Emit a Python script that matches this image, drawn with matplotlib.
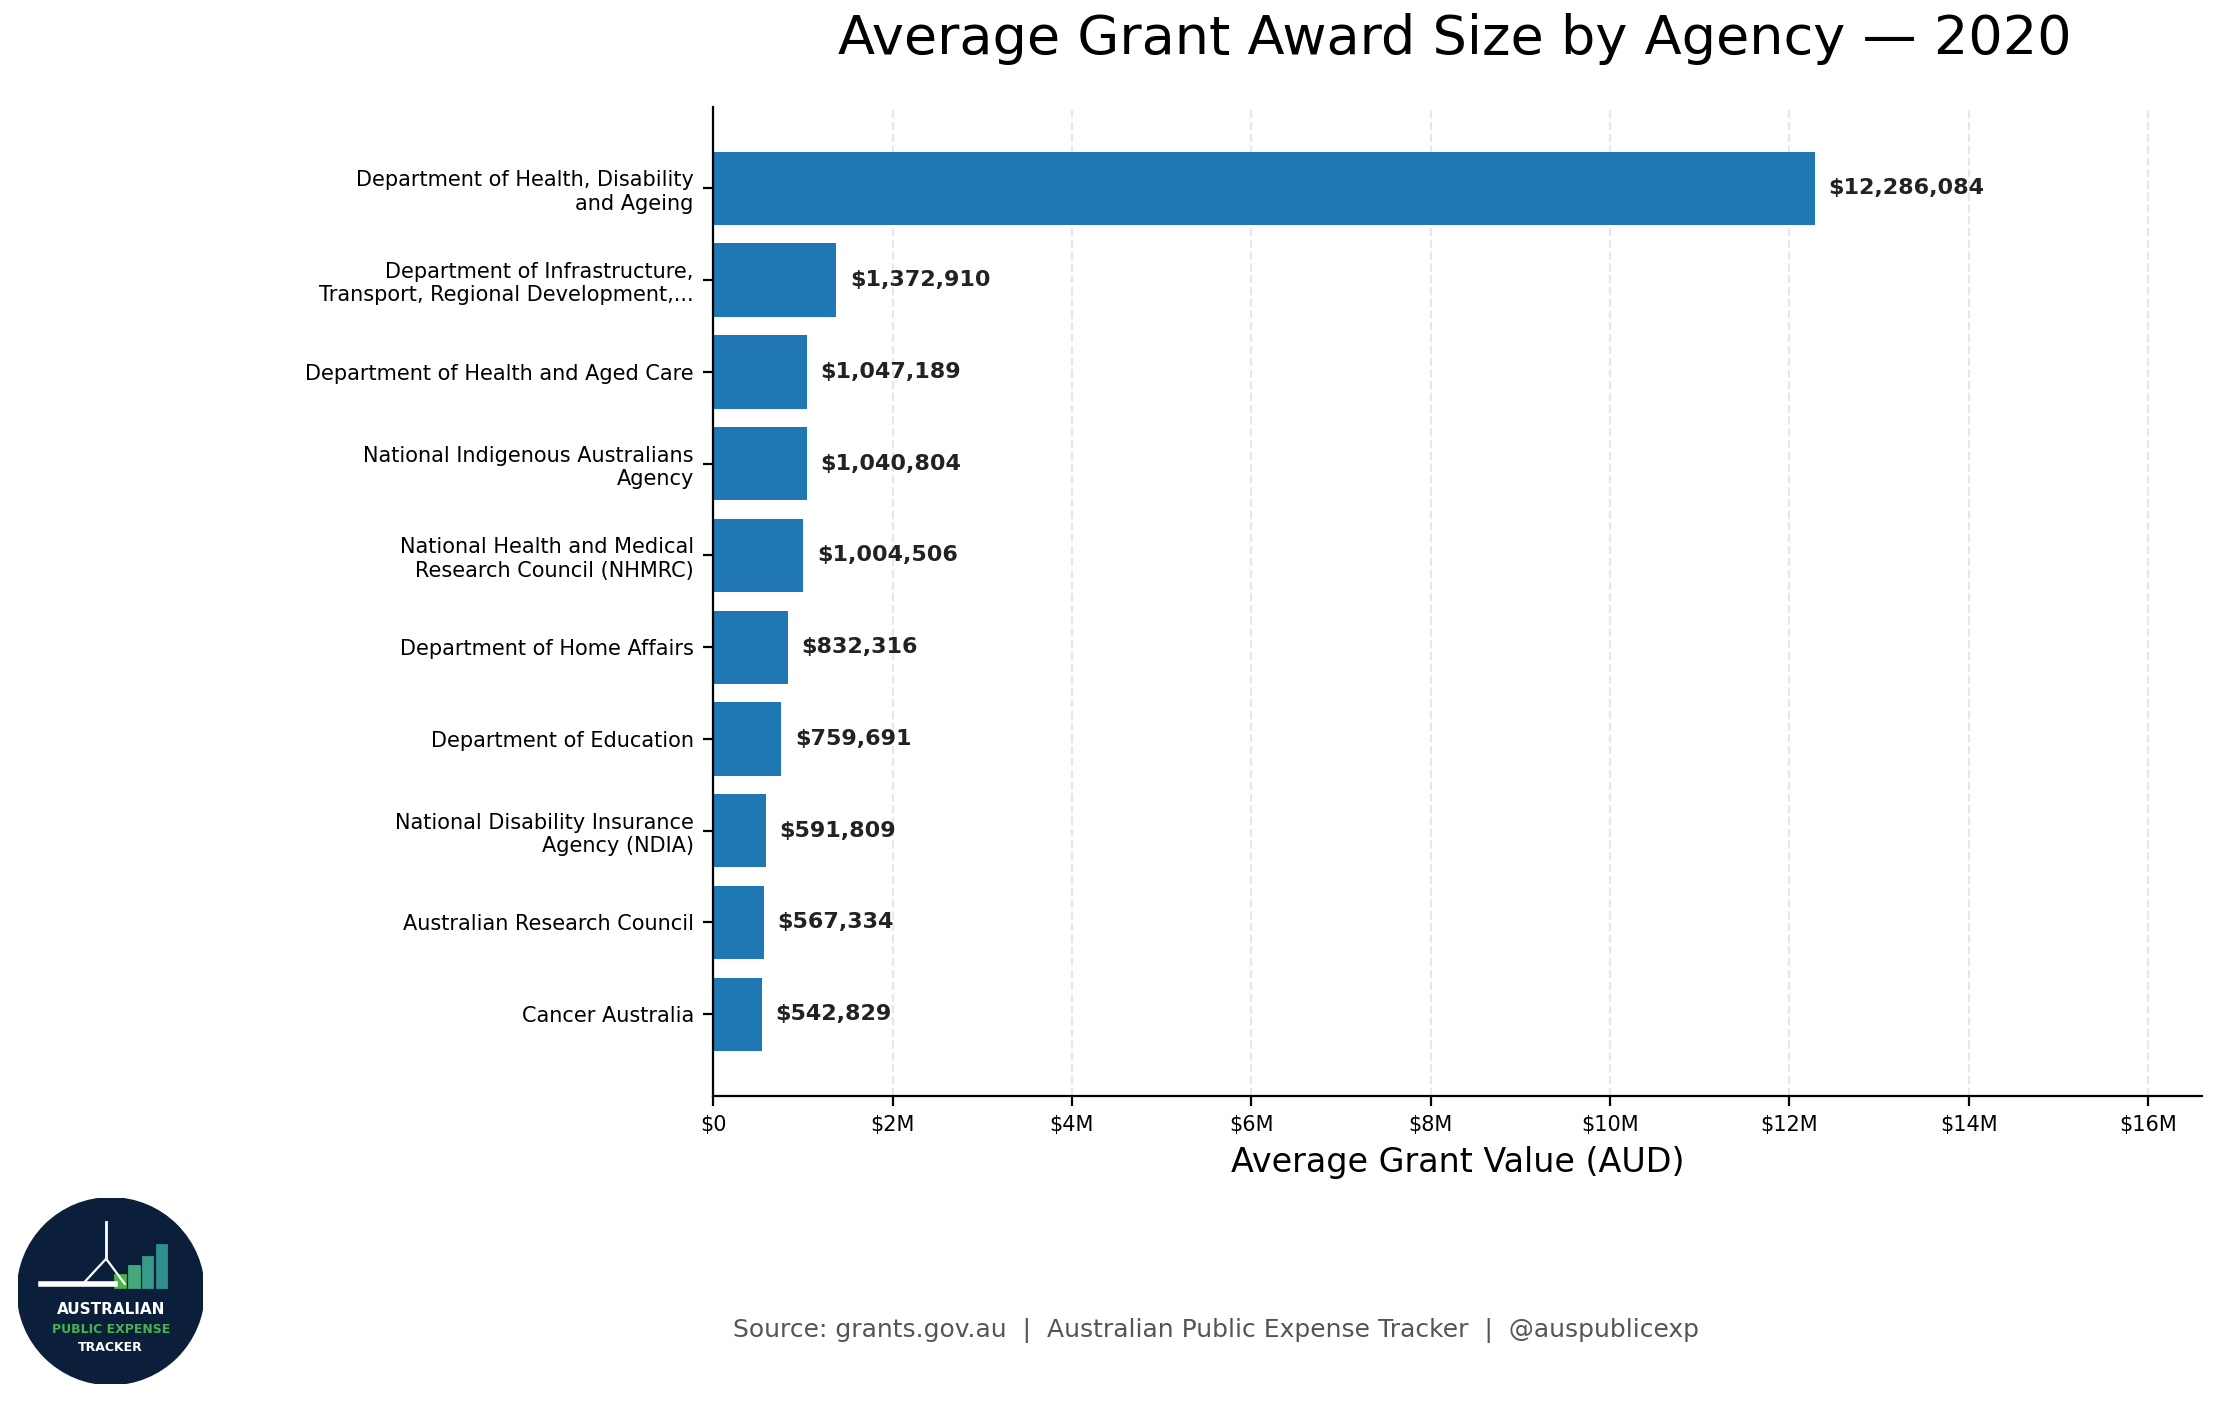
import matplotlib.pyplot as plt
from matplotlib.patches import Circle, Rectangle
from matplotlib.ticker import FuncFormatter

agencies = ["Department of Health, Disability\nand Ageing",
            "Department of Infrastructure,\nTransport, Regional Development,...",
            "Department of Health and Aged Care",
            "National Indigenous Australians\nAgency",
            "National Health and Medical\nResearch Council (NHMRC)",
            "Department of Home Affairs",
            "Department of Education",
            "National Disability Insurance\nAgency (NDIA)",
            "Australian Research Council",
            "Cancer Australia"]
values = [12286084, 1372910, 1047189, 1040804, 1004506, 832316, 759691, 591809, 567334, 542829]

fig = plt.figure(figsize=(11.075, 7.025), dpi=200)
ax = fig.add_axes([0.322, 0.22, 0.672, 0.704])
y = range(len(values))
ax.barh(y, values, color="#1f77b4", height=0.8)
ax.set_yticks(list(y))
ax.set_yticklabels(agencies, fontsize=7.5)
ax.invert_yaxis()
ax.set_xlim(0, 16.6e6)
ax.set_xticks([i * 2e6 for i in range(9)])
ax.xaxis.set_major_formatter(FuncFormatter(lambda v, p: "$0" if v == 0 else f"${v/1e6:.0f}M"))
ax.tick_params(axis="x", labelsize=7.5)
ax.grid(axis="x", linestyle="--", alpha=0.3)
ax.set_axisbelow(True)
for s in ["top", "right"]:
    ax.spines[s].set_visible(False)
for i, v in enumerate(values):
    ax.text(v + 0.15e6, i, f"${v:,.0f}", va="center", fontsize=8, fontweight="bold", color="#222222")
ax.set_xlabel("Average Grant Value (AUD)", fontsize=12)
fig.text(0.657, 0.972, "Average Grant Award Size by Agency — 2020", ha="center", va="center", fontsize=19.5)
fig.text(0.549, 0.053, "Source: grants.gov.au  |  Australian Public Expense Tracker  |  @auspublicexp",
         ha="center", va="center", fontsize=9, color="#555555")

# logo
lax = fig.add_axes([0.008, 0.015, 0.084, 0.132])
lax.set_xlim(-1, 1); lax.set_ylim(-1, 1); lax.set_aspect("equal"); lax.axis("off")
lax.add_patch(Circle((0, 0), 1, color="#0b1f3a"))
for i, h in enumerate([0.12, 0.22, 0.32, 0.45]):
    lax.add_patch(Rectangle((0.05 + i * 0.15, 0.05), 0.1, h, color=["#4caf50", "#43a87a", "#3a9a8a", "#2f8f8f"][i]))
lax.plot([-0.75, 0.05], [0.08, 0.08], color="white", lw=2)
lax.plot([-0.3, -0.05, 0.15], [0.08, 0.35, 0.08], color="white", lw=0.8)
lax.plot([-0.05, -0.05], [0.35, 0.75], color="white", lw=1)
lax.text(0, -0.25, "AUSTRALIAN", color="white", ha="center", fontsize=5.5, fontweight="bold")
lax.text(0, -0.45, "PUBLIC EXPENSE", color="#4caf50", ha="center", fontsize=4.5, fontweight="bold")
lax.text(0, -0.65, "TRACKER", color="white", ha="center", fontsize=4.5, fontweight="bold")

fig.savefig("out.png", dpi=200)
